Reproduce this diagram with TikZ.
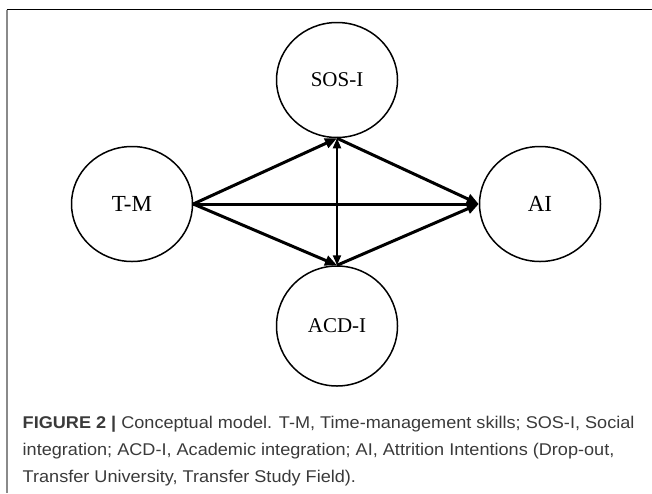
\documentclass[tikz,border=0pt]{standalone}
\usepackage{fontspec}
\setmainfont{Liberation Serif}
\setsansfont{Liberation Sans}
\usetikzlibrary{shapes.geometric,arrows.meta}

\definecolor{captext}{HTML}{3A3A3A}
\definecolor{framegray}{HTML}{8A8A8A}

\tikzset{
    construct/.style={ellipse, draw, line width=1.5pt, inner sep=0pt,
        minimum width=121pt, minimum height=115pt, font=\fontsize{21}{21}\selectfont},
    path/.style={line width=3pt, -{Triangle[length=12pt,width=10pt]}},
    corr/.style={line width=2pt, {Triangle[length=10pt,width=8pt]}-{Triangle[length=10pt,width=8pt]}}
}

\begin{document}
\begin{tikzpicture}[x=1pt,y=-1pt]
    \useasboundingbox (0,0) rectangle (652,493);

    % frame
    \draw[line width=1.5pt] (6.5,9.5) -- (652,9.5);
    \draw[framegray, line width=2pt] (7,9.5) -- (7,493);

    % constructs
    \node[construct, font=\fontsize{23}{23}\selectfont] (tm) at (132,204) {T-M};
    \node[construct] (sos) at (337,80) {SOS-I};
    \node[construct, font=\fontsize{23}{23}\selectfont] (ai) at (540,204) {AI};
    \node[construct, minimum height=120pt] (acd) at (337,326) {ACD-I};

    % paths
    \draw[path] (tm.east) -- (sos.south);
    \draw[path] (tm.east) -- (acd.north);
    \draw[path] (tm.east) -- (ai.west);
    \draw[path] (sos.south) -- (ai.west);
    \draw[path] (acd.north) -- (ai.west);
    \draw[corr] (sos.south) -- (acd.north);

    % caption
    \node[anchor=north west, inner sep=0pt, text=captext,
        font=\sffamily\fontsize{17}{27}\selectfont] (cap) at (22.5,409)
        {\scalebox{1.065}[1]{\begin{tabular}{@{}l@{}}
        \textbf{FIGURE 2 |} Conceptual model. T-M, Time-management skills; SOS-I, Social\\
        integration; ACD-I, Academic integration; AI, Attrition Intentions (Drop-out,\\
        Transfer University, Transfer Study Field).
        \end{tabular}}};
\end{tikzpicture}
\end{document}
